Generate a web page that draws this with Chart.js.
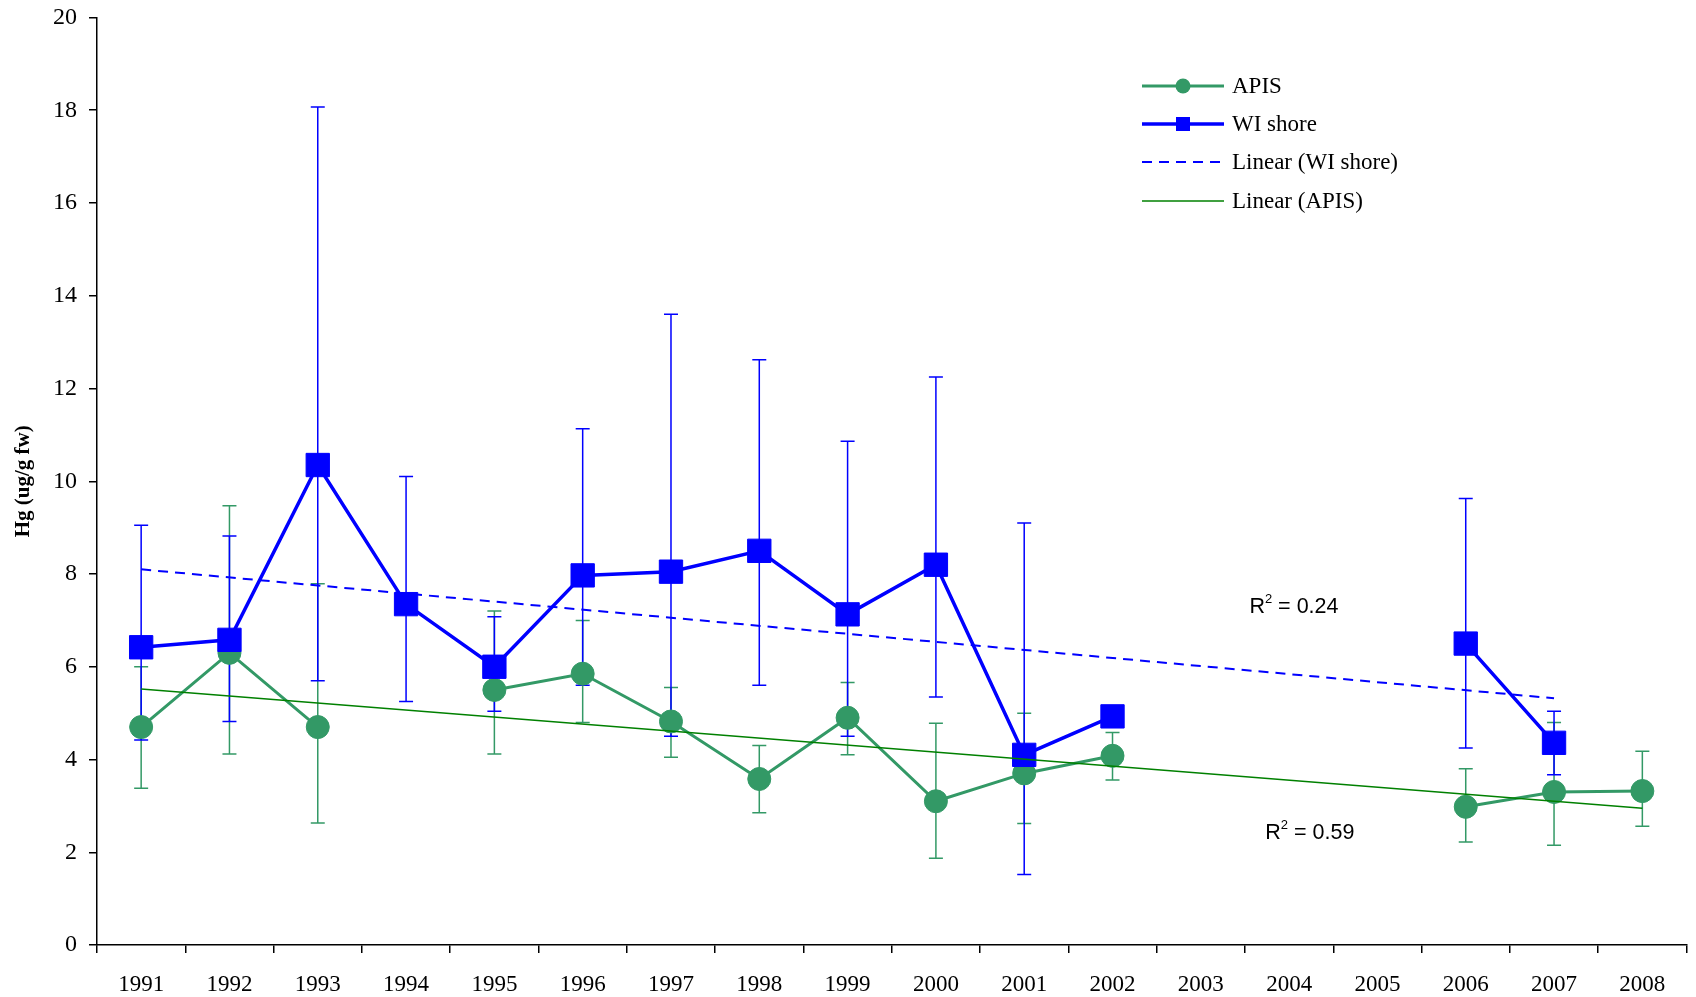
<!DOCTYPE html>
<html>
<head>
<meta charset="utf-8">
<script src="https://cdn.jsdelivr.net/npm/chart.js@4.4.0/dist/chart.umd.min.js"></script>
<style>
  html, body { margin: 0; padding: 0; background: #fff; overflow: hidden; }
  /* a bit wider than the window: Chart.js keeps some space on the right */
  #wrap { width: 1704px; height: 997px; position: relative; }
  #hgChart { display: block; }
</style>
</head>
<body>
<div id="wrap"><canvas id="hgChart"></canvas></div>
<script>
// Years on the x axis
const years = ['1991', '1992', '1993', '1994', '1995', '1996', '1997', '1998', '1999',
               '2000', '2001', '2002', '2003', '2004', '2005', '2006', '2007', '2008'];

// APIS: mean Hg and error bar ends
const apisMean = [4.70, 6.30, 4.70, null, 5.50, 5.85, 4.82, 3.58, 4.90, 3.10, 3.70, 4.08, null, null, null, 2.98, 3.30, 3.32];
const apisHigh = [6.00, 9.47, 7.79, null, 7.20, 7.00, 5.55, 4.30, 5.66, 4.78, 5.00, 4.58, null, null, null, 3.80, 4.80, 4.18];
const apisLow  = [3.38, 4.12, 2.63, null, 4.12, 4.80, 4.05, 2.85, 4.10, 1.87, 2.62, 3.56, null, null, null, 2.22, 2.15, 2.56];

// WI shore: mean Hg and error bar ends
const wiMean = [6.42, 6.58, 10.35, 7.35, 6.00, 7.97, 8.05, 8.50, 7.13, 8.20, 4.10, 4.93, null, null, null, 6.50, 4.36, null];
const wiHigh = [9.05, 8.82, 18.07, 10.10, 7.08, 11.13, 13.60, 12.62, 10.86, 12.25, 9.10, null, null, null, null, 9.63, 5.04, null];
const wiLow  = [4.42, 4.82, 5.70, 5.25, 5.04, 5.60, 4.50, 5.60, 4.50, 5.35, 1.52, null, null, null, null, 4.25, 3.67, null];

// Trend lines: only the end points
const wiTrend   = [8.10, null, null, null, null, null, null, null, null, null, null, null, null, null, null, null, 5.32, null];
const apisTrend = [5.52, null, null, null, null, null, null, null, null, null, null, null, null, null, null, null, null, 2.95];

// Tick values of the y axis
const yMin = 0;
const yMax = 20;
const yStep = 2;

const GREEN = '#339966';
const BLUE = '#0000ff';
const TREND_GREEN = '#008000';

Chart.defaults.font.family = '"Liberation Serif", "Times New Roman", serif';
Chart.defaults.color = '#000';

// Error bars drawn under the markers
const errorBars = {
    id: 'errorBars',
    beforeDatasetsDraw(chart) {
        const { ctx, scales: { x, y } } = chart;
        const sets = [
            { low: apisLow, high: apisHigh, color: GREEN },
            { low: wiLow, high: wiHigh, color: BLUE }
        ];
        ctx.save();
        ctx.lineWidth = 1.5;
        sets.forEach(s => {
            ctx.strokeStyle = s.color;
            years.forEach((yr, i) => {
                if (s.high[i] == null) return;
                const px = x.getPixelForValue(i);
                const top = y.getPixelForValue(s.high[i]);
                const bot = y.getPixelForValue(s.low[i]);
                ctx.beginPath();
                ctx.moveTo(px, top); ctx.lineTo(px, bot);
                ctx.moveTo(px - 7, top); ctx.lineTo(px + 7, top);
                ctx.moveTo(px - 7, bot); ctx.lineTo(px + 7, bot);
                ctx.stroke();
            });
        });
        ctx.restore();
    }
};

// Legend inside the plot, and the R² notes
const extras = {
    id: 'extras',
    afterDraw(chart) {
        const { ctx, scales: { x, y } } = chart;
        ctx.save();

        // legend
        const lx0 = 1142, lx1 = 1224, tx = 1232;
        const rows = [86, 124, 162, 201];
        ctx.font = '23px "Liberation Serif", serif';
        ctx.textBaseline = 'middle';
        ctx.fillStyle = '#000';

        // APIS
        ctx.strokeStyle = GREEN; ctx.lineWidth = 3; ctx.setLineDash([]);
        ctx.beginPath(); ctx.moveTo(lx0, rows[0]); ctx.lineTo(lx1, rows[0]); ctx.stroke();
        ctx.fillStyle = GREEN;
        ctx.beginPath(); ctx.arc((lx0 + lx1) / 2, rows[0], 7.5, 0, Math.PI * 2); ctx.fill();
        // WI shore
        ctx.strokeStyle = BLUE; ctx.lineWidth = 3.5;
        ctx.beginPath(); ctx.moveTo(lx0, rows[1]); ctx.lineTo(lx1, rows[1]); ctx.stroke();
        ctx.fillStyle = BLUE;
        ctx.fillRect((lx0 + lx1) / 2 - 7, rows[1] - 7, 14, 14);
        // Linear (WI shore)
        ctx.lineWidth = 2; ctx.setLineDash([10, 7]);
        ctx.beginPath(); ctx.moveTo(lx0, rows[2]); ctx.lineTo(lx1, rows[2]); ctx.stroke();
        // Linear (APIS)
        ctx.setLineDash([]); ctx.strokeStyle = TREND_GREEN; ctx.lineWidth = 1.5;
        ctx.beginPath(); ctx.moveTo(lx0, rows[3]); ctx.lineTo(lx1, rows[3]); ctx.stroke();

        ctx.fillStyle = '#000';
        ['APIS', 'WI shore', 'Linear (WI shore)', 'Linear (APIS)'].forEach((t, i) => {
            ctx.fillText(t, tx, rows[i] + 1);
        });

        // R² labels
        const drawR2 = (xi, yv, val) => {
            let px = x.getPixelForValue(xi);
            const py = y.getPixelForValue(yv);
            ctx.textBaseline = 'alphabetic';
            ctx.font = '21.5px "Liberation Sans", Arial, sans-serif';
            ctx.fillText('R', px, py);
            px += ctx.measureText('R').width;
            ctx.font = '13px "Liberation Sans", Arial, sans-serif';
            ctx.fillText('2', px, py - 10);
            px += ctx.measureText('2').width;
            ctx.font = '21.5px "Liberation Sans", Arial, sans-serif';
            ctx.fillText(' = ' + val, px, py);
        };
        drawR2(12.55, 7.15, '0.24');
        drawR2(12.73, 2.29, '0.59');

        ctx.restore();
    }
};

const ctx = document.getElementById('hgChart').getContext('2d');
new Chart(ctx, {
    type: 'line',
    data: {
        labels: years,
        datasets: [
            {
                label: 'Linear (WI shore)',
                data: wiTrend,
                borderColor: BLUE,
                borderWidth: 2,
                borderDash: [10, 7],
                pointRadius: 0,
                spanGaps: true,
                order: 0
            },
            {
                label: 'Linear (APIS)',
                data: apisTrend,
                borderColor: TREND_GREEN,
                borderWidth: 1.5,
                pointRadius: 0,
                spanGaps: true,
                order: 0
            },
            {
                label: 'WI shore',
                data: wiMean,
                borderColor: BLUE,
                backgroundColor: BLUE,
                borderWidth: 3.5,
                pointStyle: 'rect',
                pointRadius: 16.5,
                pointBorderWidth: 1,
                spanGaps: false,
                order: 1
            },
            {
                label: 'APIS',
                data: apisMean,
                borderColor: GREEN,
                backgroundColor: GREEN,
                borderWidth: 3,
                pointStyle: 'circle',
                pointRadius: 11.5,
                pointBorderWidth: 1,
                spanGaps: false,
                order: 2
            }
        ]
    },
    options: {
        responsive: true,
        maintainAspectRatio: false,
        animation: false,
        layout: { padding: { top: 17, right: 0, left: 0, bottom: 0 } },
        plugins: {
            legend: { display: false },
            tooltip: { enabled: false }
        },
        scales: {
            x: {
                type: 'category',
                offset: true,
                afterFit: s => {
                    s.height = 52;
                    s.paddingLeft = 0;
                    s.paddingRight = 0;
                },
                grid: {
                    display: true,
                    offset: true,
                    drawOnChartArea: false,
                    drawTicks: true,
                    tickLength: 8,
                    color: '#000',
                    lineWidth: 1.5
                },
                border: { display: true, color: '#000', width: 1.5 },
                ticks: {
                    font: { size: 23 },
                    color: '#000',
                    padding: 18,
                    maxRotation: 0,
                    autoSkip: false
                }
            },
            y: {
                min: yMin,
                max: yMax,
                afterFit: s => {
                    s.width = 97;
                    s.paddingTop = 0;
                    s.paddingBottom = 0;
                },
                grid: {
                    display: true,
                    drawOnChartArea: false,
                    drawTicks: true,
                    tickLength: 8,
                    color: '#000',
                    lineWidth: 1.5
                },
                border: { display: true, color: '#000', width: 1.5 },
                ticks: {
                    stepSize: yStep,
                    font: { size: 24 },
                    color: '#000',
                    padding: 12
                },
                title: {
                    display: true,
                    text: 'Hg (ug/g fw)',
                    font: { size: 21, weight: 'bold' },
                    color: '#000',
                    padding: { top: 11, bottom: 0 }
                }
            }
        }
    },
    plugins: [errorBars, extras]
});
</script>
</body>
</html>
